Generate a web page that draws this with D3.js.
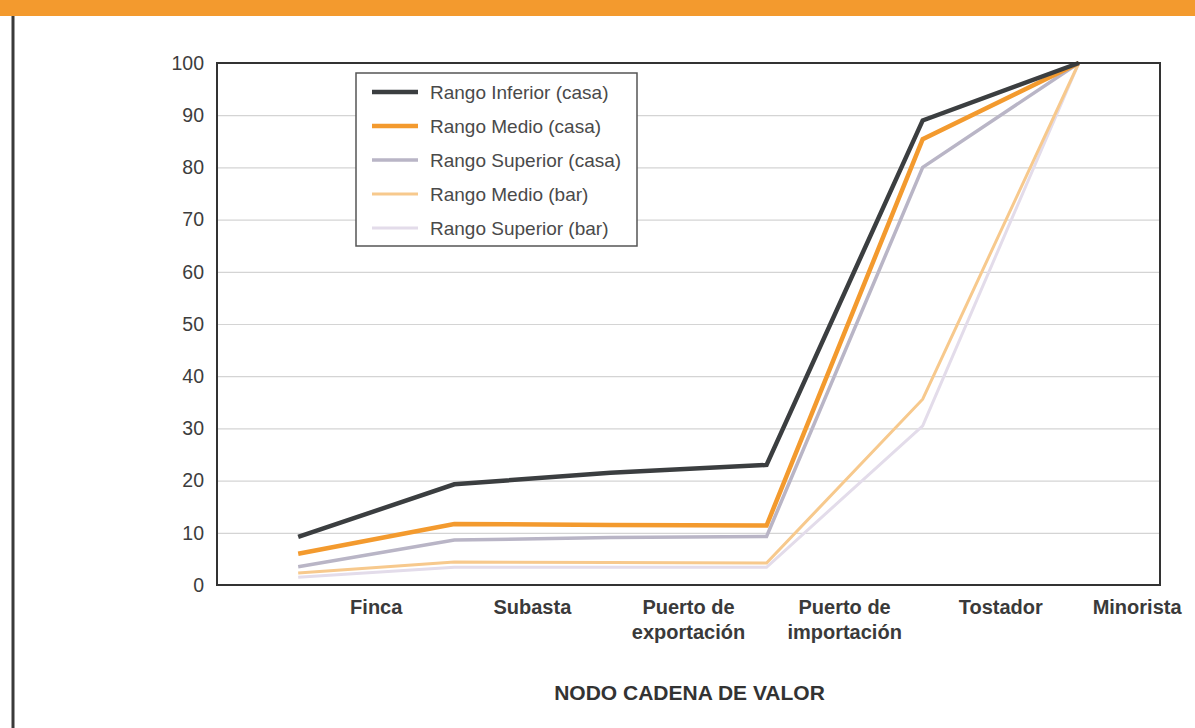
<!DOCTYPE html>
<html>
<head>
<meta charset="utf-8">
<script src="https://cdn.jsdelivr.net/npm/d3@7"></script>
<style>
  html, body { margin: 0; padding: 0; background: #ffffff; }
  svg { display: block; }
</style>
</head>
<body>
<svg id="chart" width="1195" height="728"></svg>
<script>
// ---- data ----
const categories = ["Finca", "Subasta", "Puerto de exportación", "Puerto de importación", "Tostador", "Minorista"];
const categoryLines = [["Finca"], ["Subasta"], ["Puerto de", "exportación"], ["Puerto de", "importación"], ["Tostador"], ["Minorista"]];
const seriesNames = ["Rango Inferior (casa)", "Rango Medio (casa)", "Rango Superior (casa)", "Rango Medio (bar)", "Rango Superior (bar)"];
const inferiorCasa = [9.2, 19.3, 21.5, 23.0, 89.0, 100];
const medioCasa    = [6.0, 11.7, 11.5, 11.4, 85.4, 100];
const superiorCasa = [3.5, 8.6, 9.1, 9.3, 80.0, 100];
const medioBar     = [2.3, 4.4, 4.3, 4.2, 35.6, 100];
const superiorBar  = [1.5, 3.4, 3.4, 3.4, 30.5, 100];
const yTicks = [0, 10, 20, 30, 40, 50, 60, 70, 80, 90, 100];
const xTitle = "NODO CADENA DE VALOR";

// ---- styles ----
const seriesColors = ["#3b3e40", "#f39a2e", "#b9b5c6", "#f7c98d", "#e3dcea"];
const seriesWidths = [4.5, 4.5, 3.5, 3, 3];
const allSeries = [inferiorCasa, medioCasa, superiorCasa, medioBar, superiorBar];

const W = 1195, H = 728;
const margin = { top: 63, right: 35, bottom: 143, left: 217 };
const innerW = W - margin.left - margin.right;
const innerH = H - margin.top - margin.bottom;

const svg = d3.select("#chart");

// page decorations (orange header band, left page rule)
svg.append("rect").attr("x", 0).attr("y", 0).attr("width", W).attr("height", 16).attr("fill", "#f39a2e");
svg.append("line").attr("x1", 13).attr("x2", 13).attr("y1", 16).attr("y2", H)
  .attr("stroke", "#3a3a3a").attr("stroke-width", 3);

const g = svg.append("g").attr("transform", `translate(${margin.left},${margin.top})`);

const x = d3.scalePoint().domain(categories).range([0, innerW]).padding(0.52);
const y = d3.scaleLinear().domain([0, 100]).range([innerH, 0]);

// gridlines
g.append("g")
  .call(d3.axisLeft(y).tickValues(yTicks.filter(t => t > 0 && t < 100)).tickSize(-innerW).tickFormat(""))
  .call(a => a.select(".domain").remove())
  .call(a => a.selectAll("line").attr("stroke", "#d4d4d4").attr("stroke-width", 1.2));

// y tick labels
g.append("g")
  .call(d3.axisLeft(y).tickValues(yTicks).tickSize(0).tickPadding(13))
  .call(a => a.select(".domain").remove())
  .call(a => a.selectAll("text")
    .attr("font-family", "'Liberation Sans', Arial, sans-serif")
    .attr("font-size", 19.5).attr("fill", "#3d3d3d"));

// lines (drawn lightest first so darker lines sit on top)
const line = d3.line().x((d, i) => x(categories[i])).y(d => y(d));
const order = [4, 3, 2, 1, 0];
order.forEach(k => {
  g.append("path")
    .datum(allSeries[k])
    .attr("d", line)
    .attr("fill", "none")
    .attr("stroke", seriesColors[k])
    .attr("stroke-width", seriesWidths[k])
    .attr("stroke-linejoin", "miter");
});

// plot frame
g.append("rect").attr("x", 0).attr("y", 0).attr("width", innerW).attr("height", innerH)
  .attr("fill", "none").attr("stroke", "#333").attr("stroke-width", 2);

// x category labels (offset half a step to the right as in the original, kept inside page)
const step = x.step();
const labelFont = "'Liberation Sans', Arial, sans-serif";
const xl = g.append("g").attr("class", "xlabels");
categories.forEach((c, i) => {
  const t = xl.append("text")
    .attr("text-anchor", "middle")
    .attr("font-family", labelFont)
    .attr("font-weight", "bold")
    .attr("font-size", 20)
    .attr("fill", "#3a3a3a")
    .attr("y", innerH + 29);
  categoryLines[i].forEach((s, j) => {
    t.append("tspan").attr("x", 0).attr("dy", j === 0 ? 0 : 25).text(s);
  });
  const bw = t.node().getBBox().width;
  let cx = x(c) + step / 2;
  const maxRight = W - margin.left - 13;
  if (cx + bw / 2 > maxRight) cx = maxRight - bw / 2;
  t.selectAll("tspan").attr("x", cx);
});

// axis title
g.append("text")
  .attr("x", x(categories[2]) + step / 2 + 1)
  .attr("y", innerH + 115)
  .attr("text-anchor", "middle")
  .attr("font-family", labelFont)
  .attr("font-weight", "bold")
  .attr("font-size", 21)
  .attr("fill", "#333")
  .text(xTitle);

// legend
const legend = g.append("g").attr("transform", `translate(${356 - margin.left},${73 - margin.top})`);
legend.append("rect").attr("width", 281).attr("height", 173)
  .attr("fill", "#fff").attr("stroke", "#555").attr("stroke-width", 1.5);
seriesNames.forEach((name, k) => {
  const ly = 19 + k * 34;
  legend.append("line").attr("x1", 16).attr("x2", 62).attr("y1", ly).attr("y2", ly)
    .attr("stroke", seriesColors[k]).attr("stroke-width", seriesWidths[k]);
  legend.append("text").attr("x", 74).attr("y", ly).attr("dy", "0.35em")
    .attr("font-family", labelFont).attr("font-size", 19).attr("fill", "#4a4a4a")
    .text(name);
});
</script>
</body>
</html>
